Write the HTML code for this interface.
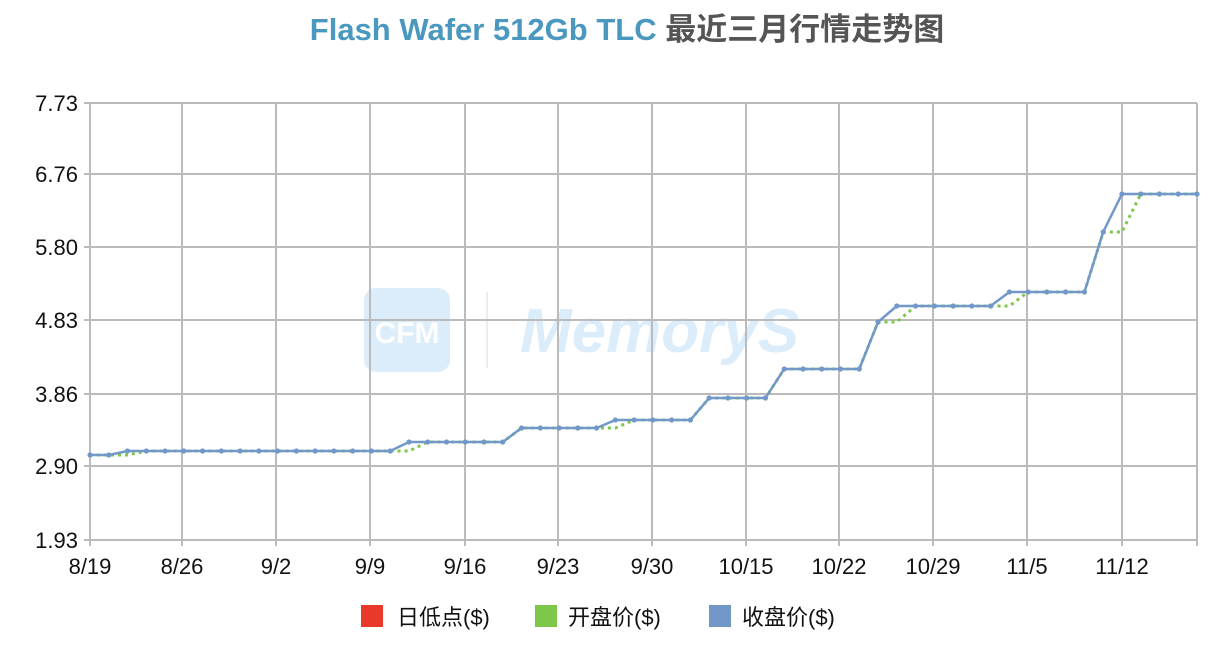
<!DOCTYPE html>
<html><head><meta charset="utf-8"><style>
body{margin:0;background:#fff;width:1228px;height:652px;overflow:hidden;font-family:"Liberation Sans","Noto Sans CJK SC",sans-serif}
</style></head><body>
<svg id="s" width="1228" height="652" xmlns="http://www.w3.org/2000/svg" font-family="Liberation Sans, Noto Sans CJK SC, sans-serif">
<text x="627" y="40" text-anchor="middle" font-size="31" font-weight="bold"><tspan fill="#4a98bf">Flash Wafer 512Gb TLC</tspan><tspan fill="#555"> 最近三月行情走势图</tspan></text>
<g opacity="0.55">
<rect x="364" y="288" width="86" height="84" rx="12" fill="#bfe0f7"/>
<text x="407" y="343" text-anchor="middle" font-size="30" font-weight="bold" fill="#fff">CFM</text>
<line x1="487" y1="292" x2="487" y2="368" stroke="#ddd" stroke-width="2"/>
<text x="520" y="352" font-size="62" font-weight="bold" font-style="italic" fill="#bfe0f7">MemoryS</text>
</g>
<g id="grid" stroke="#bbb" stroke-width="2"></g>
<g id="lbl" font-size="22" fill="#111"></g>
<g id="ser"></g>
<rect x="361" y="605" width="22" height="22" fill="#e8392b"/>
<text x="397" y="625" font-size="22" fill="#111">日低点($)</text>
<rect x="535" y="605" width="22" height="22" fill="#7dc84a"/>
<text x="568" y="625" font-size="22" fill="#111">开盘价($)</text>
<rect x="709" y="605" width="22" height="22" fill="#7198c9"/>
<text x="742" y="625" font-size="22" fill="#111">收盘价($)</text>
</svg>
<script>
var NS="http://www.w3.org/2000/svg";
function el(p,t,a,txt){var e=document.createElementNS(NS,t);for(var k in a)e.setAttribute(k,a[k]);if(txt)e.textContent=txt;p.appendChild(e);return e;}
var g=document.getElementById('grid'),l=document.getElementById('lbl'),s=document.getElementById('ser');
var ys=[[103,'7.73'],[174,'6.76'],[247,'5.80'],[320,'4.83'],[394,'3.86'],[466,'2.90'],[540,'1.93']];
ys.forEach(function(v){el(g,'line',{x1:84,x2:1197,y1:v[0],y2:v[0]});el(l,'text',{x:78,y:v[0]+8,'text-anchor':'end'},v[1]);});
var xs=[[90,'8/19'],[182,'8/26'],[276,'9/2'],[370,'9/9'],[465,'9/16'],[558,'9/23'],[652,'9/30'],[746,'10/15'],[839,'10/22'],[933,'10/29'],[1027,'11/5'],[1122,'11/12'],[1197,'']];
xs.forEach(function(v){el(g,'line',{x1:v[0],x2:v[0],y1:103,y2:546});if(v[1])el(l,'text',{x:v[0],y:574,'text-anchor':'middle'},v[1]);});
var c=[];function r(v,n){for(var i=0;i<n;i++)c.push(v);}
r(455,2);r(451,15);r(442,6);r(428,5);r(420,5);r(398,4);r(369,5);r(322,1);r(306,6);r(292,5);r(232,1);r(194,5);
var lag={2:1,17:1,28:1,43:1,49:1,55:1};
var o=c.map(function(y,i){return lag[i]?c[i-1]:y;});
function X(i){return 90+i*(1107/59);}
el(s,'polyline',{points:o.map(function(y,i){return X(i)+','+y}).join(' '),fill:'none',stroke:'#7dc84a','stroke-width':3,'stroke-dasharray':'3,4'});
el(s,'polyline',{points:c.map(function(y,i){return X(i)+','+y}).join(' '),fill:'none',stroke:'#7198c9','stroke-width':2.5});
c.forEach(function(y,i){el(s,'circle',{cx:X(i),cy:y,r:2.6,fill:'#7198c9'});});
</script>
</body></html>
